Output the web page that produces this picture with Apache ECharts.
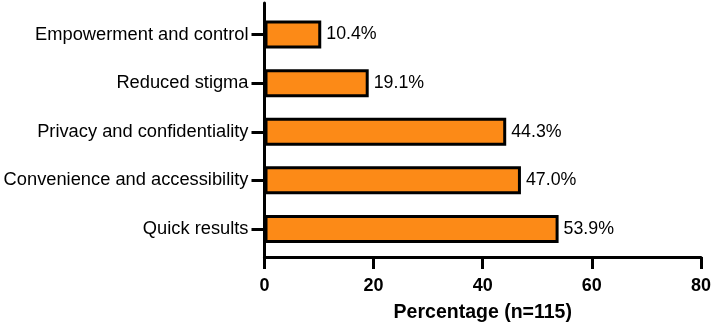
<!DOCTYPE html>
<html><head><meta charset="utf-8">
<script src="https://cdn.jsdelivr.net/npm/echarts@6/dist/echarts.min.js"></script>
<style>html,body{margin:0;padding:0;background:#fff}#c{width:714px;height:328px}</style>
</head><body><div id="c"></div>
<script>
const categories = ["Empowerment and control", "Reduced stigma", "Privacy and confidentiality", "Convenience and accessibility", "Quick results"];
const values = [10.4, 19.1, 44.3, 47.0, 53.9];
const xTicks = [0, 20, 40, 60, 80];
const axisTitle = "Percentage (n=115)";

const FONT = "'Liberation Sans', Arial, Helvetica, sans-serif";
const chart = echarts.init(document.getElementById('c'), null, {renderer: 'canvas'});
chart.setOption({
  animation: false,
  textStyle: {fontFamily: FONT},
  grid: [
    {left: 264.5, right: 13, top: 3, bottom: 66.5},
    {left: 264.5, right: 13, top: 10.2, bottom: 74.7}
  ],
  xAxis: [
    {gridIndex: 0, type: 'value', min: xTicks[0], max: xTicks[xTicks.length-1], interval: 20,
     axisLine: {show: true, lineStyle: {color: '#000', width: 3}},
     axisTick: {show: true, length: 12, lineStyle: {color: '#000', width: 3}},
     splitLine: {show: false},
     axisLabel: {color: '#000', fontSize: 18, fontWeight: 'bold', margin: 20, fontFamily: FONT},
     name: axisTitle, nameLocation: 'middle', nameGap: 46,
     nameTextStyle: {color: '#000', fontSize: 19.5, fontWeight: 'bold', fontFamily: FONT}},
    {gridIndex: 1, type: 'value', min: xTicks[0], max: xTicks[xTicks.length-1], show: false}
  ],
  yAxis: [
    {gridIndex: 0, type: 'value', min: 0, max: 1, axisLine: {show: true, onZero: false, lineStyle: {color: '#000', width: 3}},
     axisTick: {show: false}, axisLabel: {show: false}, splitLine: {show: false}},
    {gridIndex: 1, type: 'category', data: categories, inverse: true,
     axisLine: {show: false}, splitLine: {show: false},
     axisTick: {show: true, alignWithLabel: true, length: 13, lineStyle: {color: '#000', width: 3}},
     axisLabel: {color: '#000', fontSize: 18.3, margin: 16, fontFamily: FONT}}
  ],
  series: [{
    type: 'bar', xAxisIndex: 1, yAxisIndex: 1, data: values, barWidth: 28,
    itemStyle: {color: '#FC8A17', borderColor: '#000', borderWidth: 3},
    label: {show: true, position: 'right', distance: 5, color: '#000', fontSize: 17.8, fontFamily: FONT,
            formatter: p => p.value.toFixed(1) + '%'}
  }]
});
</script></body></html>
